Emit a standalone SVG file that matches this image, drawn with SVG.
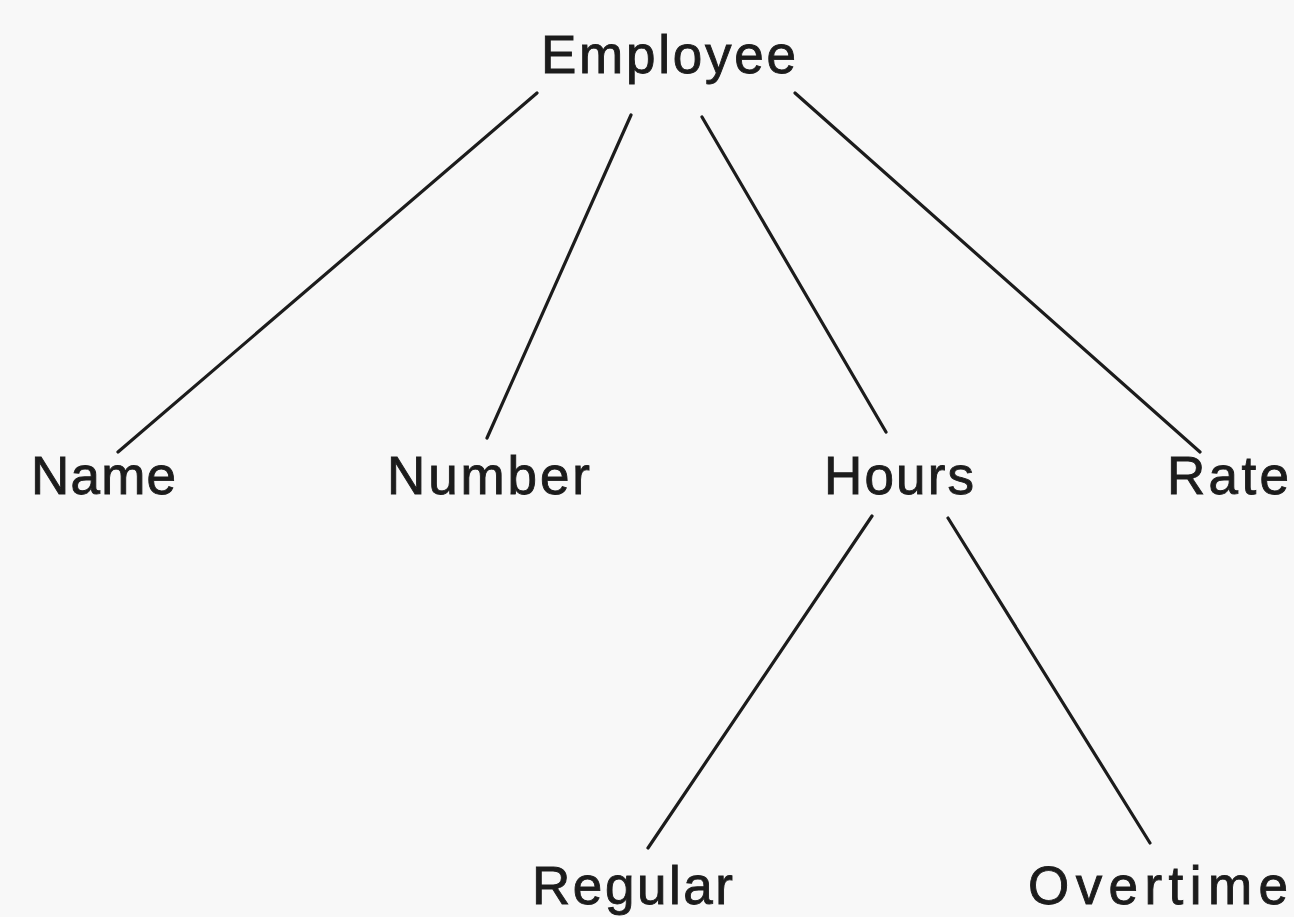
<svg xmlns="http://www.w3.org/2000/svg" width="1294" height="917" viewBox="0 0 1294 917">
<style>
.lbl{font-family:"Liberation Sans",Arial,sans-serif;font-size:53px;fill:#1c1c1c;stroke:#1c1c1c;stroke-width:0.9;}
.edge{stroke:#1c1c1c;stroke-width:3.2;fill:none;stroke-linecap:round;}
</style>
<rect width="1294" height="917" fill="#f8f8f8"/>
<g id="connectors">
<line class="edge" x1="537" y1="93" x2="118" y2="452"/>
<line class="edge" x1="631" y1="115" x2="487" y2="438"/>
<line class="edge" x1="702" y1="117" x2="886" y2="432"/>
<line class="edge" x1="795" y1="93" x2="1200" y2="452"/>
<line class="edge" x1="872" y1="516" x2="648" y2="848"/>
<line class="edge" x1="948" y1="518" x2="1150" y2="843"/>
</g>
<g id="employee"><text class="lbl" x="541" y="73" textLength="255" lengthAdjust="spacing">Employee</text></g>
<g id="name"><text class="lbl" x="31" y="494" textLength="145" lengthAdjust="spacing">Name</text></g>
<g id="number"><text class="lbl" x="387" y="494" textLength="203" lengthAdjust="spacing">Number</text></g>
<g id="hours"><text class="lbl" x="824" y="494" textLength="150" lengthAdjust="spacing">Hours</text></g>
<g id="rate"><text class="lbl" x="1167" y="494" textLength="122" lengthAdjust="spacing">Rate</text></g>
<g id="regular"><text class="lbl" x="532" y="904" textLength="201" lengthAdjust="spacing">Regular</text></g>
<g id="overtime"><text class="lbl" x="1028" y="904" textLength="260" lengthAdjust="spacing">Overtime</text></g>
</svg>
